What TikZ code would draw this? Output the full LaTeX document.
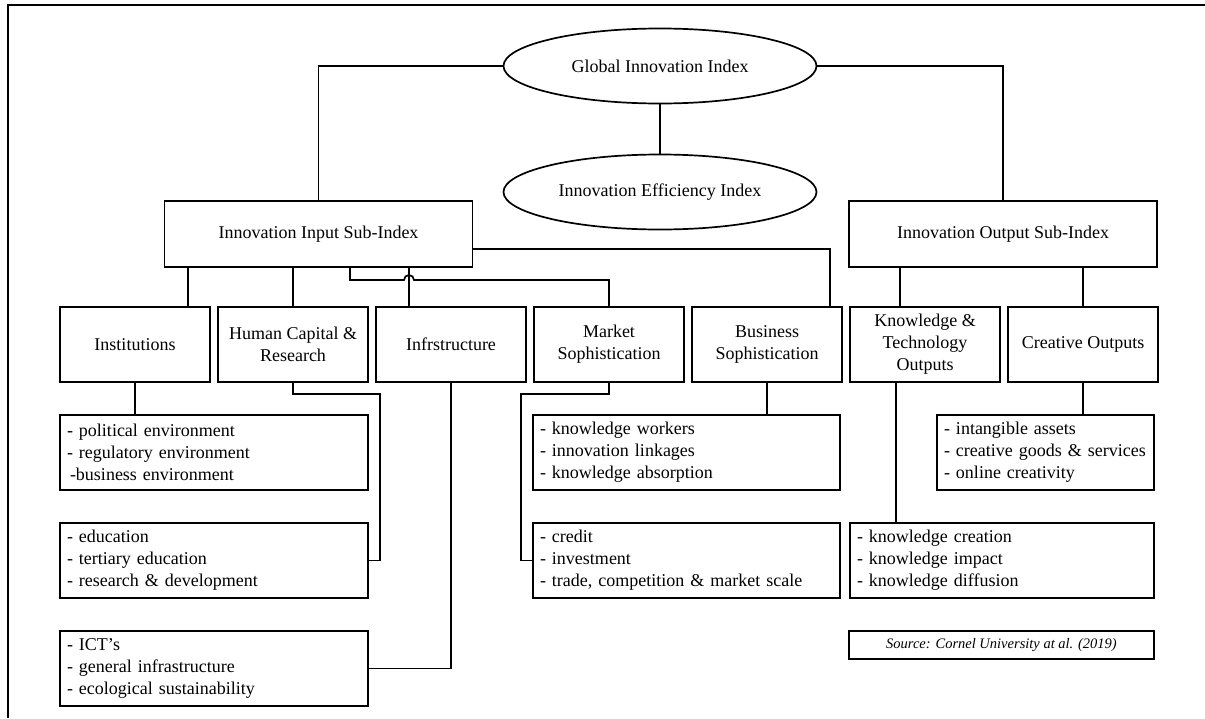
\documentclass[tikz,border=0pt]{standalone}
\usepackage{fontspec}
\setmainfont{Liberation Serif}
\usetikzlibrary{positioning,shapes.geometric}

\begin{document}
\begin{tikzpicture}[x=1pt,y=-1pt,line width=1.7pt,node distance=8pt,
    every node/.style={font=\fontsize{18}{22}\selectfont,outer sep=0pt},
    index node/.style={ellipse,draw,minimum width=313pt,minimum height=75pt},
    sub node/.style={rectangle,draw,minimum width=308pt,minimum height=66pt},
    pillar node/.style={rectangle,draw,align=center,minimum width=150pt,minimum height=75pt,inner sep=2pt},
    list node/.style={rectangle,draw,align=left,inner xsep=7pt,minimum height=75pt,text width=#1}]

  \useasboundingbox (0,0) rectangle (1205,718);
  \draw[line width=1.4pt] (8,718) -- (8,5) -- (1205,5);

  % indices
  \node[index node] (gii) at (660,66) {Global Innovation Index};
  \node[index node] (iei) at (660,192) {Innovation Efficiency Index};
  \node[sub node] (input) at (318.5,234) {Innovation Input Sub-Index};
  \node[sub node] (output) at (1003,234) {Innovation Output Sub-Index};

  % pillars
  \node[pillar node] (inst) at (135,344.5) {Institutions};
  \node[pillar node] (hc) [right=of inst] {Human Capital \&\\Research};
  \node[pillar node] (infra) [right=of hc] {Infrstructure};
  \node[pillar node] (market) [right=of infra] {Market\\Sophistication};
  \node[pillar node] (business) [right=of market] {Business\\Sophistication};
  \node[pillar node] (kt) [right=of business] {Knowledge \&\\Technology\\Outputs};
  \node[pillar node] (co) [right=of kt] {Creative Outputs};

  % sub-pillars
  \node[list node=294pt] (l1) at (214,452.5) {- political environment\\- regulatory environment\\\hspace{3pt}-business environment};
  \node[list node=294pt] (l2) [below=33pt of l1] {- education\\- tertiary education\\- research \& development};
  \node[list node=294pt] (l3) [below=33pt of l2] {- ICT's\\- general infrastructure\\- ecological sustainability};
  \node[list node=293pt] (l4) at (686.5,452.5) {- knowledge workers\\- innovation linkages\\- knowledge absorption};
  \node[list node=293pt] (l5) [below=33pt of l4] {- credit\\- investment\\- trade, competition \& market scale};
  \node[list node=203pt] (l6) at (1045.5,452.5) {- intangible assets\\- creative goods \& services\\- online creativity};
  \node[list node=290pt] (l7) [below=33pt of l6.south east,anchor=north east] {- knowledge creation\\- knowledge impact\\- knowledge diffusion};
  \node[draw,minimum width=305pt,minimum height=28pt,font=\fontsize{14.5}{17}\selectfont\itshape]
    (src) [below=33pt of l7.south east,anchor=north east] {Source: Cornel University at al. (2019)};

  % top level
  \draw (gii.west) -| (input.north);
  \draw (gii.east) -| (output.north);
  \draw (gii) -- (iei);

  % input sub-index to pillars
  \coordinate (i1) at (188,267);
  \coordinate (i3) at (409,267);
  \coordinate (i4) at (350,267);
  \coordinate (hop) at (404,280);
  \coordinate (i5) at (472.5,249);
  \coordinate (b5) at (830,307);
  \draw (i1) -- (i1 |- inst.north);
  \draw (hc.north) -- (hc.north |- input.south);
  \draw (i3) -- (i3 |- infra.north);
  \draw (i4) |- (hop) arc[start angle=180,end angle=0,radius=5pt] -| (market.north);
  \draw (i5) -| (b5);

  % output sub-index to pillars
  \coordinate (o1) at (900,267);
  \draw (o1) -- (o1 |- kt.north);
  \draw (output.south -| co.north) -- (co.north);

  % pillars to sub-pillars
  \coordinate (hcb) at (380,394);
  \coordinate (msb) at (521,394);
  \coordinate (kt1) at (896,382);
  \draw (inst.south) -- (inst.south |- l1.north);
  \draw (hc.south) |- (hcb) |- (l2.east);
  \draw (infra.south) |- (l3.east);
  \draw (market.south) |- (msb) |- (l5.west);
  \draw (business.south) -- (business.south |- l4.north);
  \draw (kt1) -- (kt1 |- l7.north);
  \draw (co.south) -- (co.south |- l6.north);
\end{tikzpicture}
\end{document}
